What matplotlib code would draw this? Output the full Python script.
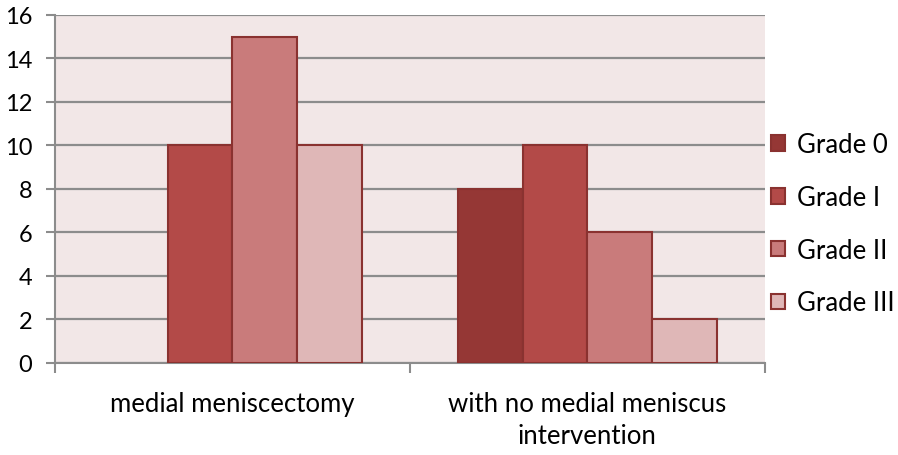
import matplotlib.pyplot as plt
import numpy as np

plt.rcParams["font.family"] = ["Lato", "DejaVu Sans"]

categories = ["medial meniscectomy", "with no medial meniscus\nintervention"]
grades = ["Grade 0", "Grade I", "Grade II", "Grade III"]
values = {
    "Grade 0": [0, 8],
    "Grade I": [10, 10],
    "Grade II": [15, 6],
    "Grade III": [10, 2],
}
colors = ["#953735", "#B34A48", "#C97B7B", "#DFB7B7"]
edge = "#8A3230"
grid_col = "#8C8C8C"
fs_y = 17
fs = 18.5

fig = plt.figure(figsize=(8.98, 4.56), dpi=100)
ax = fig.add_axes([0.0612, 0.2018, 0.7905, 0.7632])
ax.set_facecolor("#F2E7E7")

x = np.arange(len(categories))
w = 0.182
for i, g in enumerate(grades):
    lw = [1.5 if v > 0 else 0 for v in values[g]]
    ax.bar(x + (i - 1.5) * w, values[g], w, color=colors[i], edgecolor=edge,
           linewidth=lw, label=g, zorder=3)

ax.set_xlim(-0.5, 1.5)
ax.set_ylim(0, 16)
ax.set_yticks(range(0, 17, 2))
ax.yaxis.grid(True, color=grid_col, linewidth=1.6, zorder=1)
ax.set_axisbelow(True)

# category boundaries as ticks, labels at centers
ax.set_xticks([-0.5, 0.5, 1.5])
ax.set_xticklabels([])
ax.set_xticks(x, minor=True)
ax.set_xticklabels(categories, minor=True, linespacing=1.35)
ax.tick_params(axis="x", which="minor", length=0, pad=20, labelsize=fs)
ax.tick_params(axis="x", which="major", length=7, width=1.5, color=grid_col)
ax.tick_params(axis="y", length=6.5, width=1.5, color=grid_col, labelsize=fs_y, pad=10)

for s in ["top", "right"]:
    ax.spines[s].set_visible(False)
for s in ["left", "bottom"]:
    ax.spines[s].set_color(grid_col)
    ax.spines[s].set_linewidth(1.5)

leg = ax.legend(loc="center left", bbox_to_anchor=(1.0, 0.40), frameon=False,
                fontsize=fs, labelspacing=1.08, handlelength=0.55, handleheight=0.55,
                handletextpad=0.45, borderpad=0.25, borderaxespad=0.0)
for h in leg.legend_handles:
    h.set_linewidth(1.5)

fig.savefig("out.png", dpi=100)
